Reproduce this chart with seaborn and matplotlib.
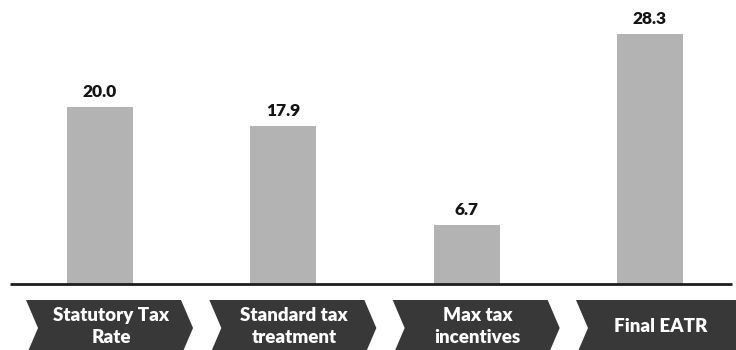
import matplotlib
matplotlib.use("Agg")
import matplotlib.pyplot as plt
import seaborn as sns
from matplotlib.patches import Polygon

categories = ["Statutory Tax\nRate", "Standard tax\ntreatment", "Max tax\nincentives", "Final EATR"]
values = [20.0, 17.9, 6.7, 28.3]

sns.set_theme(style="white")
plt.rcParams["font.family"] = ["Lato", "DejaVu Sans"]

W, H = 736, 350
fig = plt.figure(figsize=(W / 100, H / 100), dpi=100)
fig.patch.set_facecolor("white")

base_px = 284  # baseline distance from top in pixels
ax = fig.add_axes([0, (H - base_px) / H, 1, base_px / H])
step = 183.3  # pixels per category
x0 = -100 / step
x1 = 3 + (W - 650) / step
ymax = base_px / 8.85

sns.barplot(x=list(range(len(values))), y=values, color="#b3b3b3", width=0.36,
            ax=ax, saturation=1, edgecolor="none")
ax.set_xlim(x0, x1)
ax.set_ylim(0, ymax)
ax.set_axis_off()
for c in ax.containers:
    ax.bar_label(c, labels=[f"{v:.1f}" for v in values], padding=5,
                 fontsize=12.5, fontweight="heavy", color="#141414")

# baseline
ax.plot([(10 - 100) / step, (732 - 100) / step], [0, 0], color="#1e1e1e",
        lw=2, solid_capstyle="butt", clip_on=False)

# chevrons
cax = fig.add_axes([0, 0, 1, (H - base_px) / H])
cax.set_xlim(x0, x1)
cax.set_ylim(0, H - base_px)
cax.set_axis_off()
top, mid, bot = 50, 22, -6
notch = 12 / step
for i, lab in enumerate(categories):
    left = i - 74 / step
    right = i + 81 / step
    if i == len(categories) - 1:
        pts = [(left, top), (x1 + 0.1, top), (x1 + 0.1, bot), (left, bot),
               (left + notch, mid)]
    else:
        pts = [(left, top), (right, top), (right + notch, mid), (right, bot),
               (left, bot), (left + notch, mid)]
    cax.add_patch(Polygon(pts, closed=True, facecolor="#383838", edgecolor="none",
                          clip_on=False))
    cax.text(i + 11 / step, 23.5, lab, ha="center", va="center", color="white",
             fontsize=13.5, fontweight="heavy", linespacing=1.3)

fig.savefig("out.png", dpi=100, facecolor="white")
